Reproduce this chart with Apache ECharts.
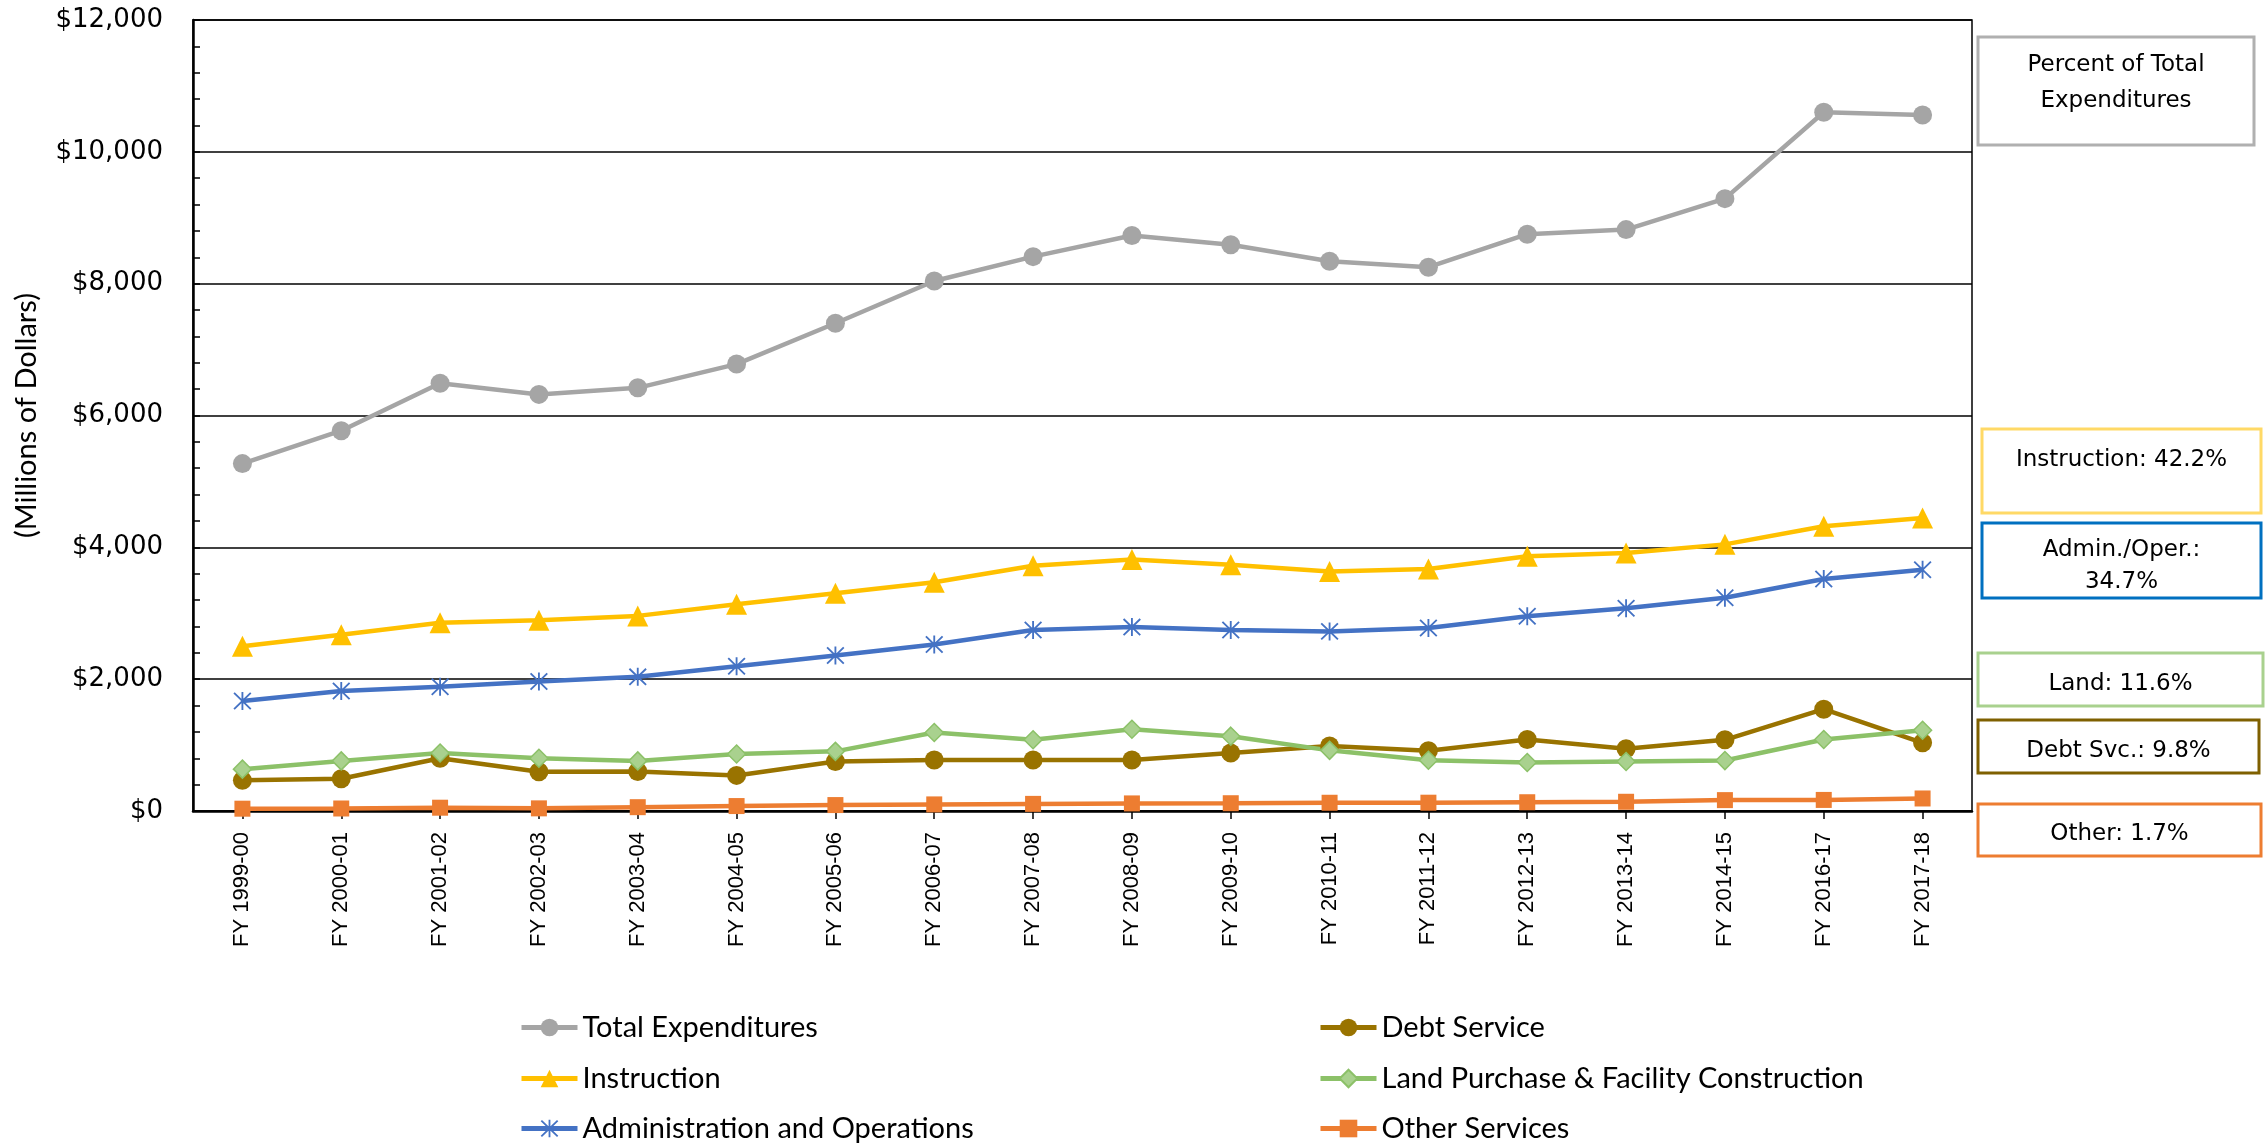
<!DOCTYPE html>
<html><head><meta charset="utf-8">
<script src="https://cdn.jsdelivr.net/npm/echarts@6/dist/echarts.min.js"></script>
<style>html,body{margin:0;padding:0;background:#fff}#c{width:2265px;height:1144px}</style>
</head><body><div id="c"></div>
<script>
const categories = ["FY 1999-00","FY 2000-01","FY 2001-02","FY 2002-03","FY 2003-04","FY 2004-05","FY 2005-06","FY 2006-07","FY 2007-08","FY 2008-09","FY 2009-10","FY 2010-11","FY 2011-12","FY 2012-13","FY 2013-14","FY 2014-15","FY 2016-17","FY 2017-18"];
const totalExp = [5270,5770,6490,6320,6420,6780,7400,8040,8410,8730,8590,8340,8250,8750,8820,9290,10600,10560];
const instruction = [2500,2675,2855,2895,2960,3135,3305,3470,3720,3815,3735,3635,3670,3865,3915,4045,4320,4445];
const adminOps = [1670,1820,1885,1965,2035,2195,2360,2525,2745,2790,2745,2725,2775,2955,3075,3235,3520,3660];
const debtService = [465,490,800,595,600,540,750,775,775,775,880,985,915,1085,945,1080,1545,1035];
const landFacility = [635,760,880,800,760,865,905,1190,1080,1240,1135,920,770,735,750,765,1085,1225];
const otherServices = [35,38,50,40,58,75,90,100,108,115,118,125,126,133,140,165,168,190];
const yTicks = [0,2000,4000,6000,8000,10000,12000];
const percentBoxes = [
  {text:"Percent of Total\nExpenditures", color:"#B0B0B0"},
  {text:"Instruction: 42.2%", color:"#FFD966"},
  {text:"Admin./Oper.:\n34.7%", color:"#0070C0"},
  {text:"Land: 11.6%", color:"#A9D18E"},
  {text:"Debt Svc.: 9.8%", color:"#7F6000"},
  {text:"Other: 1.7%", color:"#ED7D31"}
];
const legendLeftCol = ['Total Expenditures','Instruction','Administration and Operations'];
const legendRightCol = ['Debt Service','Land Purchase & Facility Construction','Other Services'];

const asterisk = 'path://M9 0L11 0L11 20L9 20Z M1.707 0.293L19.707 18.293L18.293 19.707L0.293 1.707Z M19.707 1.707L1.707 19.707L0.293 18.293L18.293 0.293Z';

function lineSeries(name, data, color, symbol, size, fill) {
  return {
    name, type:'line', data, symbol, symbolSize:size,
    lineStyle:{color, width:4.5},
    itemStyle:{color: fill || color, borderColor: color, borderWidth: fill ? 1.5 : 0},
    emphasis:{disabled:true}, z: 3
  };
}

const boxLayout = [
  {x:1978,y:37,w:276,h:108,ty:47,lh:36},
  {x:1982,y:429,w:279,h:84,ty:443,lh:34},
  {x:1982,y:523,w:279,h:75,ty:534,lh:32},
  {x:1978,y:653,w:285,h:53,ty:667,lh:34},
  {x:1978,y:720,w:281,h:53,ty:734,lh:34},
  {x:1978,y:804,w:283,h:52,ty:817,lh:34}
];
const graphics = [];
percentBoxes.forEach((b,i)=>{
  const L = boxLayout[i];
  graphics.push({type:'rect', shape:{x:L.x,y:L.y,width:L.w,height:L.h}, style:{fill:'#fff', stroke:b.color, lineWidth:3}});
  graphics.push({type:'text', x:L.x+L.w/2, y:L.ty, style:{text:b.text, fill:'#000', font:'23px "DejaVu Sans"', align:'center', verticalAlign:'top', lineHeight:L.lh}});
});

const rowTops = [1013, 1064, 1114];
const legends = [];
function mkLegend(name, left, top) {
  return {data:[name], orient:'horizontal', left, top, padding:0, itemWidth:56, itemHeight:22, itemGap:0,
    lineStyle:{width:5}, textStyle:{fontFamily:'Lato', fontSize:29, lineHeight:28, color:'#000'}, selectedMode:false};
}
legendLeftCol.forEach((n,i)=>legends.push(mkLegend(n, 519, rowTops[i])));
legendRightCol.forEach((n,i)=>legends.push(mkLegend(n, 1318, rowTops[i])));

const chart = echarts.init(document.getElementById('c'), null, {renderer:'canvas'});
chart.setOption({
  animation:false,
  backgroundColor:'#fff',
  grid:{left:193, right:293, top:20, bottom:333, show:true, borderColor:'#000', borderWidth:1.5, backgroundColor:'transparent'},
  xAxis:{
    type:'category', data:categories, boundaryGap:true,
    axisLine:{lineStyle:{color:'#000', width:2.5}},
    axisTick:{show:true, alignWithLabel:true, length:8, lineStyle:{color:'#000', width:1.5}},
    axisLabel:{rotate:90, margin:21, color:'#000', fontFamily:'"Liberation Sans"', fontSize:22, interval:0},
    splitLine:{show:false}
  },
  yAxis:{
    type:'value', min:yTicks[0], max:yTicks[yTicks.length-1], interval:2000,
    name:'(Millions of Dollars)', nameLocation:'middle', nameGap:152,
    nameTextStyle:{fontFamily:'Lato', fontSize:29, color:'#000'},
    axisLine:{show:true, lineStyle:{color:'#000', width:2.5}},
    axisTick:{show:true, inside:true, length:7, lineStyle:{color:'#000', width:1.5}},
    minorTick:{show:true, splitNumber:5, length:7, lineStyle:{color:'#000', width:1.5}},
    axisLabel:{margin:30, color:'#000', fontFamily:'"DejaVu Sans"', fontSize:26,
      formatter:v=>'$'+v.toLocaleString('en-US')},
    splitLine:{show:true, lineStyle:{color:'#000', width:1.5}}
  },
  legend: legends,
  series:[
    lineSeries('Total Expenditures', totalExp, '#A5A5A5', 'circle', 19),
    lineSeries('Instruction', instruction, '#FFC000', 'triangle', 21),
    lineSeries('Administration and Operations', adminOps, '#4472C4', asterisk, 18),
    lineSeries('Debt Service', debtService, '#997300', 'circle', 19),
    lineSeries('Land Purchase & Facility Construction', landFacility, '#8CC168', 'diamond', 18, '#A9D18E'),
    lineSeries('Other Services', otherServices, '#ED7D31', 'rect', 16)
  ],
  graphic: graphics
});
</script></body></html>
